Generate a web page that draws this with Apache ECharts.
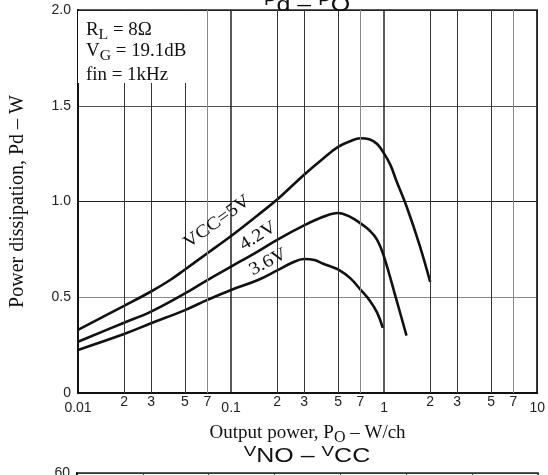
<!DOCTYPE html>
<html><head><meta charset="utf-8">
<script src="https://cdn.jsdelivr.net/npm/echarts@6/dist/echarts.min.js"></script>
<style>html,body{margin:0;padding:0;background:#fff}#c{width:548px;height:475px}</style>
</head><body><div id="c"></div>
<script>
// ---- data ----
const xDecadeLabels = ['0.01', '0.1', '1', '10'];
const xMinorTicks = [0.02, 0.03, 0.05, 0.07, 0.2, 0.3, 0.5, 0.7, 2, 3, 5, 7];
const xMinorLabels = ['2', '3', '5', '7', '2', '3', '5', '7', '2', '3', '5', '7'];
const yTickLabels = ['0', '0.5', '1.0', '1.5', '2.0'];
const seriesNames = ['VCC=5V', '4.2V', '3.6V'];

const po5V = [0.01, 0.02, 0.03, 0.04, 0.05, 0.07, 0.1, 0.15, 0.2, 0.3, 0.4, 0.5, 0.6, 0.7, 0.8, 0.9, 1.0, 1.1, 1.2, 1.4, 1.7, 2.0];
const pd5V = [0.33, 0.455, 0.53, 0.59, 0.645, 0.73, 0.82, 0.93, 1.01, 1.14, 1.225, 1.285, 1.315, 1.33, 1.325, 1.30, 1.25, 1.19, 1.11, 0.975, 0.775, 0.58];

const po42V = [0.01, 0.02, 0.03, 0.05, 0.07, 0.1, 0.15, 0.2, 0.3, 0.4, 0.5, 0.6, 0.7, 0.8, 0.9, 1.0, 1.2, 1.4];
const pd42V = [0.268, 0.367, 0.425, 0.52, 0.59, 0.66, 0.74, 0.80, 0.875, 0.92, 0.94, 0.92, 0.886, 0.85, 0.80, 0.71, 0.49, 0.30];

const po36V = [0.01, 0.02, 0.03, 0.05, 0.07, 0.1, 0.15, 0.2, 0.25, 0.3, 0.35, 0.4, 0.45, 0.5, 0.6, 0.7, 0.8, 0.9, 0.98];
const pd36V = [0.225, 0.308, 0.364, 0.433, 0.486, 0.538, 0.59, 0.64, 0.68, 0.70, 0.695, 0.675, 0.66, 0.645, 0.60, 0.54, 0.486, 0.42, 0.34];

// next chart (cut off at the bottom)
const nextYMax = 60;
const nextXDivisions = 7;

// ---- chart ----
const serif = 'Liberation Serif';
const sans = 'Liberation Sans';
const ink = '#111';
const pairs = (xs, ys) => xs.map((x, i) => [x, ys[i]]);

const chart = echarts.init(document.getElementById('c'), null, { renderer: 'canvas' });

const curve = (name, xs, ys) => ({
  name, type: 'line', xAxisIndex: 0, yAxisIndex: 0,
  data: pairs(xs, ys), showSymbol: false, smooth: 0.4, z: 3,
  lineStyle: { color: ink, width: 2.6 }
});

const subRich = { fontFamily: serif, fontSize: 15, fill: ink, color: ink, lineHeight: 14, verticalAlign: 'bottom' };
const smallRich = { fontFamily: sans, fontSize: 15, fill: ink, lineHeight: 15, verticalAlign: 'top' };

const option = {
  animation: false,
  backgroundColor: '#fff',
  grid: [
    { left: 77, right: 10, top: 10, bottom: 82, show: true, borderColor: '#222', borderWidth: 1.5 },
    { left: 77, right: 10, top: 473, height: 300, show: true, borderColor: '#222', borderWidth: 1.5 }
  ],
  xAxis: [
    {
      type: 'log', gridIndex: 0, logBase: 10, min: 0.01, max: 10,
      axisLine: { show: true, onZero: false, lineStyle: { color: ink, width: 2 } },
      axisTick: { show: false },
      axisLabel: { margin: 8, color: '#222', fontFamily: sans, fontSize: 14,
        formatter: (v, i) => xDecadeLabels[i] },
      splitLine: { show: true, lineStyle: { color: '#222', width: 1.5 } },
      name: 'Output power, P{sub|O} – W/ch', nameLocation: 'middle', nameGap: 11,
      nameTextStyle: { fontFamily: serif, fontSize: 19, color: ink, lineHeight: 26,
        rich: { sub: { fontFamily: serif, fontSize: 16, color: ink, lineHeight: 15, verticalAlign: 'bottom' } } }
    },
    {
      type: 'value', gridIndex: 1, min: 0, max: nextXDivisions, interval: 1,
      axisLine: { show: false }, axisTick: { show: false }, axisLabel: { show: false },
      splitLine: { show: true, lineStyle: { color: '#333', width: 1 } }
    }
  ],
  yAxis: [
    {
      type: 'value', gridIndex: 0, min: 0, max: 2, interval: 0.5,
      axisLine: { show: true, lineStyle: { color: ink, width: 2 } },
      axisTick: { show: false },
      axisLabel: { margin: 7, color: '#222', fontFamily: sans, fontSize: 14,
        formatter: (v, i) => yTickLabels[i] },
      splitLine: { show: true, lineStyle: { color: ['#222', '#888', '#222', '#555', '#222'], width: 1.2 } },
      name: 'Power dissipation, Pd – W', nameLocation: 'middle', nameGap: 50,
      nameTextStyle: { fontFamily: serif, fontSize: 20, color: ink }
    },
    {
      type: 'value', gridIndex: 1, min: 0, max: nextYMax, interval: 10,
      axisLine: { show: true, lineStyle: { color: ink, width: 2 } },
      axisTick: { show: false },
      axisLabel: { show: true, showMaxLabel: true, margin: 7, color: '#222', fontFamily: sans, fontSize: 14 },
      splitLine: { show: true, lineStyle: { color: '#333', width: 1 } }
    }
  ],
  series: [
    {
      type: 'line', xAxisIndex: 0, yAxisIndex: 0, data: [], z: 1, silent: true,
      markLine: {
        silent: true, symbol: 'none', animation: false,
        label: { show: true, position: 'start', distance: 2, color: '#222', fontFamily: sans, fontSize: 14,
          formatter: p => xMinorLabels[p.dataIndex] },
        lineStyle: { type: 'solid', color: '#333', width: 1 },
        emphasis: { disabled: true },
        data: xMinorTicks.map((v, i) => ({ xAxis: v,
          lineStyle: { type: 'solid', color: xMinorLabels[i] === '7' ? '#888' : '#333', width: 1 } }))
      }
    },
    curve(seriesNames[0], po5V, pd5V),
    curve(seriesNames[1], po42V, pd42V),
    curve(seriesNames[2], po36V, pd36V)
  ],
  graphic: [
    { type: 'rect', z: 100, shape: { x: 78, y: 11, width: 118, height: 72 }, style: { fill: '#fff' } },
    { type: 'text', z: 101, x: 86, y: 17, scaleX: 1.05,
      style: { text: 'R{sub|L} = 8Ω', fontFamily: serif, fontSize: 18, fill: ink, lineHeight: 26, verticalAlign: 'top', align: 'left',
        rich: { sub: subRich } } },
    { type: 'text', z: 101, x: 86, y: 38, scaleX: 1.05,
      style: { text: 'V{sub|G} = 19.1dB', fontFamily: serif, fontSize: 18, fill: ink, lineHeight: 26, verticalAlign: 'top', align: 'left',
        rich: { sub: subRich } } },
    { type: 'text', z: 101, x: 86, y: 62, scaleX: 1.05,
      style: { text: 'fin = 1kHz', fontFamily: serif, fontSize: 18, fill: ink, lineHeight: 26, verticalAlign: 'top', align: 'left' } },
    // curve labels
    { type: 'text', z: 101, x: 217, y: 222, rotation: 36 * Math.PI / 180, scaleX: 1.12,
      style: { text: seriesNames[0], fontFamily: serif, fontSize: 18, fill: ink, align: 'center', verticalAlign: 'middle' } },
    { type: 'text', z: 101, x: 258, y: 236, rotation: 32 * Math.PI / 180, scaleX: 1.12,
      style: { text: seriesNames[1], fontFamily: serif, fontSize: 18, fill: ink, align: 'center', verticalAlign: 'middle' } },
    { type: 'text', z: 101, x: 268, y: 262, rotation: 28 * Math.PI / 180, scaleX: 1.12,
      style: { text: seriesNames[2], fontFamily: serif, fontSize: 18, fill: ink, align: 'center', verticalAlign: 'middle' } },
    // titles
    { type: 'text', z: 101, x: 307, y: -7, scaleX: 1.25,
      style: { text: '{s|P}d – {s|P}O', fontFamily: sans, fontSize: 20, fill: ink, lineHeight: 25, align: 'center', verticalAlign: 'top',
        rich: { s: smallRich } } },
    { type: 'text', z: 101, x: 307, y: 444, scaleX: 1.25,
      style: { text: '{s|V}NO – {s|V}CC', fontFamily: sans, fontSize: 20, fill: ink, lineHeight: 25, align: 'center', verticalAlign: 'top',
        rich: { s: smallRich } } }
  ]
};
chart.setOption(option);
</script>
</body></html>
